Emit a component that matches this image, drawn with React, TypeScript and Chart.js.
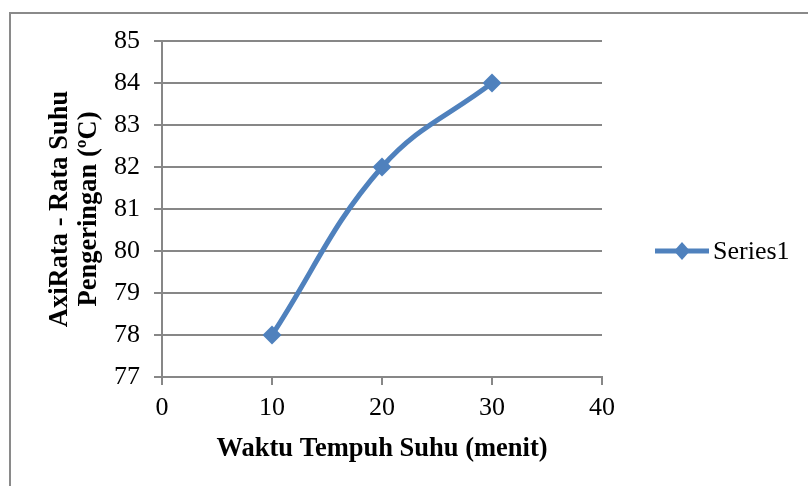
import React, { useEffect, useRef } from "react";
import { Chart, registerables } from "chart.js";

Chart.register(...registerables);

const xValues = [10, 20, 30];
const yValues = [78, 82, 84];
const seriesLabel = "Series1";
const xTitle = "Waktu Tempuh Suhu (menit)";
const yTitle = ["AxiRata - Rata Suhu", "Pengeringan (ºC)"];
const xMin = 0, xMax = 40, xStep = 10;
const yMin = 77, yMax = 85, yStep = 1;

const BLUE = "#4F81BD";
const GRID = "#878787";
const FONT = "'Liberation Serif', 'Times New Roman', serif";

export default function App() {
  const ref = useRef<HTMLCanvasElement | null>(null);

  useEffect(() => {
    if (!ref.current) return;
    const framePlugin = {
      id: "frame",
      beforeDraw(chart: any) {
        const ctx = chart.ctx;
        ctx.save();
        ctx.fillStyle = "#ffffff";
        ctx.fillRect(0, 0, chart.width, chart.height);
        ctx.strokeStyle = "#8a8a8a";
        ctx.lineWidth = 2;
        ctx.strokeRect(10, 13, 900, 600);
        ctx.restore();
      },
      afterDraw(chart: any) {
        const ctx = chart.ctx;
        const ds = chart.data.datasets[0];
        const y = 251;
        ctx.save();
        ctx.strokeStyle = BLUE;
        ctx.lineWidth = 5;
        ctx.beginPath();
        ctx.moveTo(655, y);
        ctx.lineTo(709, y);
        ctx.stroke();
        ctx.fillStyle = BLUE;
        ctx.beginPath();
        ctx.moveTo(682, y - 9);
        ctx.lineTo(690, y);
        ctx.lineTo(682, y + 9);
        ctx.lineTo(674, y);
        ctx.closePath();
        ctx.fill();
        ctx.fillStyle = "#000000";
        ctx.font = `26px ${FONT}`;
        ctx.textBaseline = "middle";
        ctx.textAlign = "left";
        ctx.fillText(ds.label, 713, y + 1);
        ctx.restore();
      },
    };

    const chart = new Chart(ref.current, {
      type: "scatter",
      data: {
        datasets: [
          {
            label: seriesLabel,
            data: xValues.map((x, i) => ({ x, y: yValues[i] })),
            showLine: true,
            borderColor: BLUE,
            backgroundColor: BLUE,
            borderWidth: 5,
            tension: 0.4,
            pointStyle: "rectRot",
            pointRadius: 9.5,
            pointBorderWidth: 0,
            pointBackgroundColor: BLUE,
          },
        ],
      },
      options: {
        animation: false,
        responsive: false,
        devicePixelRatio: 1,
        layout: { padding: { left: 0, top: 41, right: 206, bottom: 0 } },
        plugins: { legend: { display: false }, tooltip: { enabled: false } },
        scales: {
          x: {
            type: "linear",
            min: xMin,
            max: xMax,
            ticks: { stepSize: xStep, color: "#000", font: { family: FONT, size: 26 }, padding: 8 },
            grid: { drawOnChartArea: false, drawTicks: true, tickLength: 8, color: GRID, lineWidth: 2 },
            border: { color: GRID, width: 2 },
            title: {
              display: true,
              text: xTitle,
              color: "#000",
              font: { family: FONT, size: 26.5, weight: "bold", lineHeight: 1.12 },
              padding: { top: 0, bottom: 22 },
            },
            afterFit(scale: any) {
              scale.height = 109;
            },
          },
          y: {
            type: "linear",
            min: yMin,
            max: yMax,
            ticks: { stepSize: yStep, color: "#000", font: { family: FONT, size: 26 }, padding: 14 },
            grid: { drawOnChartArea: true, drawTicks: true, tickLength: 8, color: GRID, lineWidth: 2 },
            border: { color: GRID, width: 2 },
            title: {
              display: true,
              text: yTitle,
              color: "#000",
              font: { family: FONT, size: 26.5, weight: "bold", lineHeight: 1.12 },
              padding: { top: 45, bottom: 0 },
            },
            afterFit(scale: any) {
              scale.width = 162;
            },
          },
        },
      },
      plugins: [framePlugin],
    });
    return () => chart.destroy();
  }, []);

  return (
    <div style={{ position: "fixed", left: 0, top: 0, width: 808, height: 486, background: "#fff" }}>
      <canvas ref={ref} width={808} height={486} style={{ width: 808, height: 486, display: "block" }} />
    </div>
  );
}
